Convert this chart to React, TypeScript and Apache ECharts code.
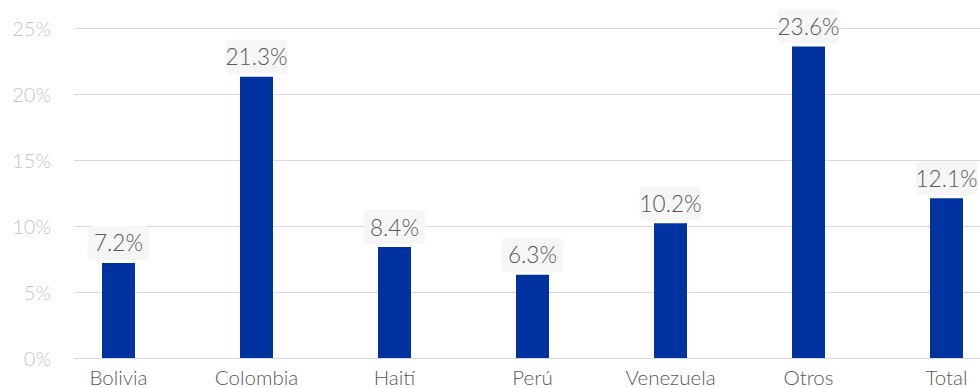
import React, { useEffect, useRef } from "react";
import * as echarts from "echarts";

const categories = ["Bolivia", "Colombia", "Haití", "Perú", "Venezuela", "Otros", "Total"];
const values = [7.2, 21.3, 8.4, 6.3, 10.2, 23.6, 12.1];
const yMin = 0;
const yMax = 25;
const yStep = 5;

const FONT = "Lato, 'Open Sans', sans-serif";

export default function App() {
  const ref = useRef<HTMLDivElement>(null);
  useEffect(() => {
    if (!ref.current) return;
    const chart = echarts.init(ref.current, undefined, { renderer: "svg" });
    chart.setOption({
      animation: false,
      textStyle: { fontFamily: FONT },
      grid: [
        { left: 74, right: 0, top: 28, bottom: 30, outerBoundsMode: "none" },
        { left: 49.5, width: 966, top: 28, bottom: 30, outerBoundsMode: "none" },
      ],
      xAxis: [
        { gridIndex: 0, type: "category", data: categories, show: false },
        {
          gridIndex: 1,
          type: "category",
          data: categories,
          axisLine: { show: false },
          axisTick: { show: false },
          axisLabel: {
            color: "#595959",
            fontSize: 20.5,
            fontWeight: 300,
            margin: 8,
            fontFamily: FONT,
            interval: 0,
          },
        },
      ],
      yAxis: [
        {
          gridIndex: 0,
          type: "value",
          min: yMin,
          max: yMax,
          interval: yStep,
          axisLine: { show: false },
          axisTick: { show: false },
          splitLine: { lineStyle: { color: "#d9d9d9", width: 1 } },
          axisLabel: {
            formatter: "{value}%",
            color: "#c6c6c6",
            fontSize: 20,
            fontWeight: 300,
            margin: 23,
            fontFamily: FONT,
          },
        },
        {
          gridIndex: 1,
          type: "value",
          min: yMin,
          max: yMax,
          interval: yStep,
          show: false,
          splitLine: { show: false },
        },
      ],
      series: [
        {
          type: "bar",
          xAxisIndex: 1,
          yAxisIndex: 1,
          data: values,
          barWidth: 33,
          itemStyle: { color: "#0033A0" },
          label: {
            show: true,
            position: "top",
            distance: 3,
            formatter: (p: any) => `${p.value.toFixed(1)}%`,
            color: "#595959",
            fontSize: 22.5,
            fontWeight: 300,
            fontFamily: FONT,
            lineHeight: 28,
            width: 62,
            align: "center",
            backgroundColor: "#f6f6f6",
            borderRadius: 5,
            padding: [3, 0, 3, 0],
          },
        },
      ],
    });
    return () => chart.dispose();
  }, []);
  return (
    <div
      ref={ref}
      style={{ position: "fixed", left: 0, top: 0, width: 980, height: 388, background: "#fff" }}
    />
  );
}
